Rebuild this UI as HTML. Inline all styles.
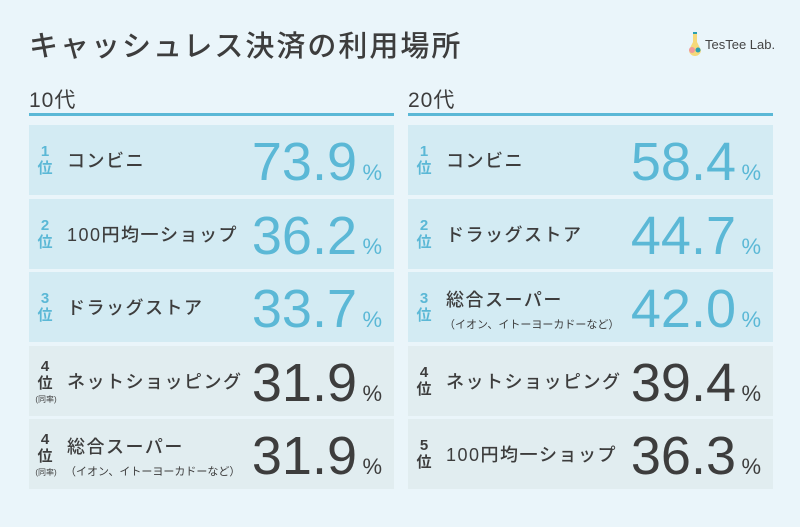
<!DOCTYPE html>
<html><head><meta charset="utf-8"><style>
body{margin:0;width:800px;height:527px;background:#eaf5fa;font-family:"Liberation Sans","Noto Sans CJK JP",sans-serif;position:relative;overflow:hidden;color:#3d3d3d}
.abs{position:absolute}
.title{left:29px;top:23px;font-size:29px;letter-spacing:2px;white-space:nowrap;font-weight:500}
.head{font-size:21px;top:84px;letter-spacing:1px}
.line{height:3px;background:#5bb8d6;top:113px}
.row{position:absolute;height:70px}
.rank{position:absolute;left:8px;width:16px;text-align:center;font-weight:bold;font-size:15px;line-height:17px}
.name{position:absolute;left:38px;font-size:18px;white-space:nowrap;font-weight:500;letter-spacing:1.5px}
.sub{position:absolute;left:36px;font-size:11px;white-space:nowrap}
.num{position:absolute;right:37px;font-size:54px;line-height:54px;top:10px}
.pct{position:absolute;right:12px;font-size:22px;top:35px}
.note{position:absolute;left:2px;font-size:8px;width:30px;text-align:center}
</style></head><body>
<div class="abs title">キャッシュレス決済の利用場所</div>
<div class="abs" style="left:688px;top:31px;width:14px;height:26px">
<svg width="14" height="26"><rect x="5" y="1" width="4" height="2" fill="#2aa0b0"/><path d="M5 3h4v8l4 8a5 5 0 0 1-12 0l4-8z" fill="#f5d97a"/><circle cx="4" cy="19" r="3" fill="#f19a9a"/><circle cx="10" cy="19" r="2.5" fill="#2aa0b0"/></svg></div>
<div class="abs" style="left:705px;top:37px;font-size:13px;color:#444">TesTee Lab.</div>
<div class="abs head" style="left:29px">10代</div>
<div class="abs head" style="left:408px">20代</div>
<div class="abs line" style="left:29px;width:365px"></div>
<div class="abs line" style="left:408px;width:365px"></div>
<div id="root"></div>
<script>
const names10 = ["コンビニ","100円均一ショップ","ドラッグストア","ネットショッピング","総合スーパー"];
const values10 = [73.9,36.2,33.7,31.9,31.9];
const ranks10 = ["1","2","3","4","4"];
const names20 = ["コンビニ","ドラッグストア","総合スーパー","ネットショッピング","100円均一ショップ"];
const values20 = [58.4,44.7,42.0,39.4,36.3];
const ranks20 = ["1","2","3","4","5"];
const SUB = "（イオン、イトーヨーカドーなど）";
const root = document.getElementById('root');
function panel(x, names, values, ranks, key){
  names.forEach((n,i)=>{
    const top3 = i<3;
    const r = document.createElement('div');
    r.className='row';
    
    
    r.style.left=x+'px'; r.style.width='365px';
    r.style.top=(125+i*73.5)+'px';
    r.style.background= top3?'#d3ebf3':'#e1edf0';
    const col = top3?'#5bb8d6':'#3d3d3d';
    const hasSub = n==='総合スーパー';
    const tie = key==='10s' && i>=3;
    let h = '<div class="rank" style="color:'+col+';top:'+(tie?12:18)+'px">'+ranks[i]+'<br>位</div>';
    if(tie) h+='<div class="note" style="top:48px">(同率)</div>';
    h+='<div class="name" style="top:'+(hasSub?14:22)+'px">'+n+'</div>';
    if(hasSub) h+='<div class="sub" style="top:44px">'+SUB+'</div>';
    h+='<div class="num" style="color:'+col+'">'+values[i].toFixed(1)+'</div>';
    h+='<div class="pct" style="color:'+col+'">%</div>';
    r.innerHTML=h;
    root.appendChild(r);
  });
}
panel(29,names10,values10,ranks10,'10s');
panel(408,names20,values20,ranks20,'20s');
</script>
</body></html>
